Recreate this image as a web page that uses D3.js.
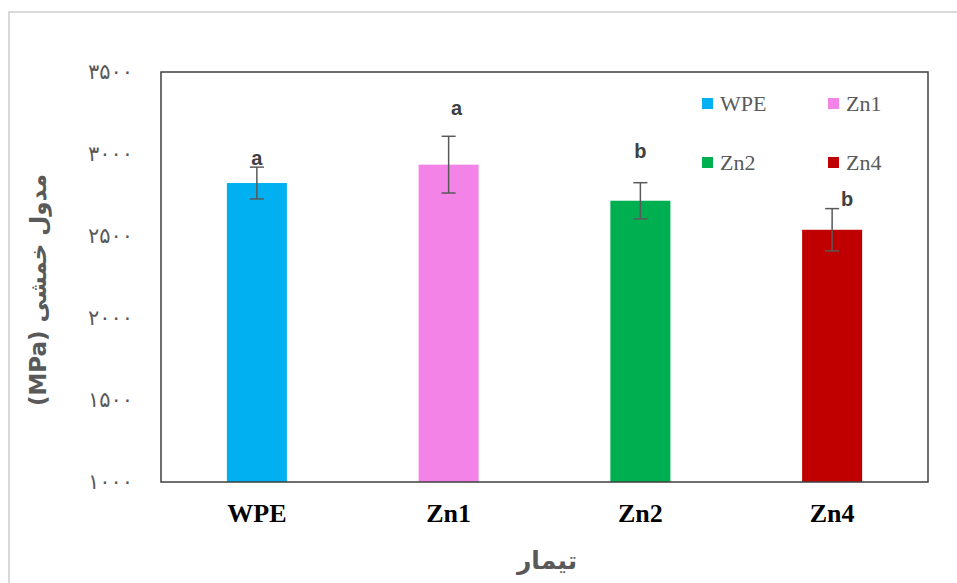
<!DOCTYPE html>
<html>
  <head>
    <meta charset="utf-8">
    <style>
      body { margin: 0; background: #fff; }
    </style>
  </head>
  <body>
    <div id="my_dataviz"></div>
  </body>
</html>

<script src="https://d3js.org/d3.v7.min.js"></script>

<script>

    // data
    var categories = ["WPE", "Zn1", "Zn2", "Zn4"];
    var means      = [2823, 2935, 2715, 2538];
    var errors     = [97, 173, 110, 129];
    var letters    = ["a", "a", "b", "b"];
    var colors     = ["#00b0f0", "#f383e6", "#00b050", "#c00000"];
    var yTicks      = [1000, 1500, 2000, 2500, 3000, 3500];
    var yTickLabels = ["۱۰۰۰", "۱۵۰۰", "۲۰۰۰", "۲۵۰۰", "۳۰۰۰", "۳۵۰۰"];

    // set the dimensions and margins of the graph
    var W = 957, H = 583;
    var margin = {top: 72, right: 29, bottom: 101, left: 161},
        width = W - margin.left - margin.right,
        height = H - margin.top - margin.bottom;

    var svg0 = d3.select("#my_dataviz")
      .append("svg")
        .attr("width", W)
        .attr("height", H);

    // light outer border of the chart area
    svg0.append("rect")
      .attr("x", 9).attr("y", 12)
      .attr("width", W + 20).attr("height", H + 20)
      .attr("fill", "none")
      .attr("stroke", "#d9d9d9")
      .attr("stroke-width", 2);

    var svg = svg0.append("g")
        .attr("transform", "translate(" + margin.left + "," + margin.top + ")");

    // X scale
    var x = d3.scaleBand()
      .domain(categories)
      .range([0, width])
      .paddingInner(0.687)
      .paddingOuter(0.3435);

    // Y scale
    var y = d3.scaleLinear()
      .domain([1000, 3500])
      .range([height, 0]);

    // Y axis
    var yAxis = svg.append("g")
      .call(d3.axisLeft(y)
        .tickValues(yTicks)
        .tickSize(0)
        .tickPadding(28)
        .tickFormat(function(d, i) { return yTickLabels[i]; }));
    yAxis.select(".domain").remove();
    yAxis.selectAll("text")
      .style("font-family", "DejaVu Sans")
      .style("font-size", "21px")
      .style("letter-spacing", "1.5px")
      .attr("fill", "#595959");

    // X axis
    var xAxis = svg.append("g")
      .attr("transform", "translate(0," + height + ")")
      .call(d3.axisBottom(x).tickSize(0).tickPadding(22));
    xAxis.select(".domain").remove();
    xAxis.selectAll("text")
      .style("font-family", "Liberation Serif")
      .style("font-weight", "bold")
      .style("font-size", "26px")
      .attr("fill", "#000");

    //Bars
    svg.selectAll("myRect")
      .data(categories)
      .enter()
      .append("rect")
      .attr("x", function(d) { return x(d); })
      .attr("y", function(d, i) { return y(means[i]); })
      .attr("width", x.bandwidth())
      .attr("height", function(d, i) { return height - y(means[i]); })
      .attr("fill", function(d, i) { return colors[i]; });

    // error bars
    var cap = 7;
    categories.forEach(function(d, i) {
      var cx = x(d) + x.bandwidth() / 2;
      var g = svg.append("g")
        .attr("stroke", "#595959")
        .attr("stroke-width", 1.5);
      g.append("line")
        .attr("x1", cx).attr("x2", cx)
        .attr("y1", y(means[i] + errors[i])).attr("y2", y(means[i] - errors[i]));
      g.append("line")
        .attr("x1", cx - cap).attr("x2", cx + cap)
        .attr("y1", y(means[i] + errors[i])).attr("y2", y(means[i] + errors[i]));
      g.append("line")
        .attr("x1", cx - cap).attr("x2", cx + cap)
        .attr("y1", y(means[i] - errors[i])).attr("y2", y(means[i] - errors[i]));
    });

    // significance letters (offsets in px from the top of the error bar)
    var letterDx = [0, 8, 0, 15],
        letterDy = [-2, -21, -25, -3];
    svg.selectAll("myLetter")
      .data(letters)
      .enter()
      .append("text")
      .attr("x", function(d, i) { return x(categories[i]) + x.bandwidth() / 2 + letterDx[i]; })
      .attr("y", function(d, i) { return y(means[i] + errors[i]) + letterDy[i]; })
      .attr("text-anchor", "middle")
      .style("font-family", "Liberation Sans")
      .style("font-weight", "bold")
      .style("font-size", "20px")
      .attr("fill", "#404040")
      .text(function(d) { return d; });

    // plot frame
    svg.append("rect")
      .attr("x", 0).attr("y", 0)
      .attr("width", width).attr("height", height)
      .attr("fill", "none")
      .attr("stroke", "#3f3f3f")
      .attr("stroke-width", 1.5);

    // legend, 2 x 2
    var legend = svg0.append("g");
    categories.forEach(function(d, i) {
      var lx = 702 + (i % 2) * 126,
          ly = 98 + Math.floor(i / 2) * 59;
      legend.append("rect")
        .attr("x", lx).attr("y", ly)
        .attr("width", 11).attr("height", 11)
        .attr("fill", colors[i]);
      legend.append("text")
        .attr("x", lx + 18).attr("y", ly + 13)
        .style("font-family", "Liberation Serif")
        .style("font-size", "22px")
        .attr("fill", "#595959")
        .text(d);
    });

    // axis titles
    svg0.append("text")
      .attr("transform", "translate(46,290) rotate(-90)")
      .attr("text-anchor", "middle")
      .attr("direction", "rtl")
      .style("font-family", "DejaVu Sans")
      .style("font-weight", "bold")
      .style("font-size", "23px")
      .attr("fill", "#595959")
      .text("مدول خمشی (MPa)");

    svg0.append("text")
      .attr("x", 547).attr("y", 569)
      .attr("text-anchor", "middle")
      .attr("direction", "rtl")
      .style("font-family", "DejaVu Sans")
      .style("font-weight", "bold")
      .style("font-size", "25px")
      .attr("fill", "#595959")
      .text("تیمار");

</script>
